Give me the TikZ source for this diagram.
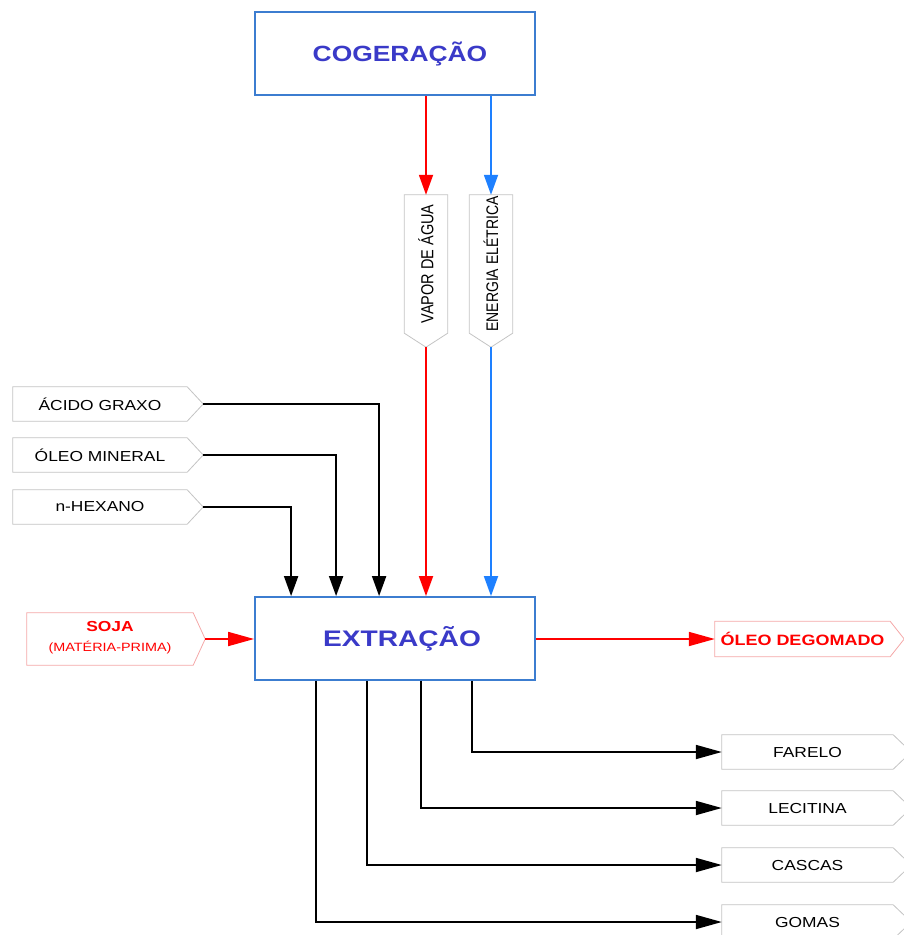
\documentclass[tikz,border=0pt]{standalone}
\usepackage{fontspec}
\setmainfont{Liberation Sans}
\usetikzlibrary{arrows.meta,calc}
\definecolor{boxblue}{HTML}{3C7DD0}
\definecolor{txtblue}{HTML}{3A3AC8}
\definecolor{lblgray}{HTML}{C4C4C4}
\definecolor{lblred}{HTML}{F5A8A8}
\definecolor{arrred}{HTML}{FF0000}
\definecolor{arrblue}{HTML}{1E80FF}
\newcommand{\hs}[1]{\scalebox{1.2}[1]{#1}}
\newcommand{\vs}[1]{\rotatebox{90}{\scalebox{1}[1.2]{#1}}}
\begin{document}
\begin{tikzpicture}[x=1pt,y=-1pt,
  mainbox/.style={draw=boxblue,line width=1.8pt,fill=white,minimum width=280pt,minimum height=83pt,inner sep=0pt,text=txtblue,font=\fontsize{22}{26}\selectfont\bfseries},
  lbl/.style={inner sep=0pt,font=\fontsize{14.5}{17}\selectfont},
  pent/.style={draw=lblgray,line width=0.8pt,fill=white},
  pentred/.style={draw=lblred,line width=0.8pt,fill=white},
  flow/.style={line width=1.8pt},
  vhead/.style={-{Triangle[length=20pt,width=14pt]}},
  hhead/.style={-{Triangle[length=26pt,width=14pt]}},
]
\useasboundingbox (0,0) rectangle (904,935);

% main boxes
\node[mainbox] (cog) at (395,53.5) {\hspace*{10pt}\hs{COGERAÇÃO}};
\node[mainbox] (ext) at (395,638.5) {\hspace*{14pt}\scalebox{1.25}[1]{\fontsize{22.5}{26}\selectfont EXTRAÇÃO}};

% vertical labels
\node[lbl,minimum width=43pt,minimum height=138pt] (vap) at (426,264) {};
\draw[pent] (vap.north west) -- (vap.north east) -- (vap.south east) -- ($(vap.south)+(0,14)$) coordinate (vaptip) -- (vap.south west) -- cycle;
\node[lbl] (vaptxt) at (vap.center) {\vs{VAPOR DE ÁGUA}};
\node[lbl,minimum width=43pt,minimum height=138pt] (ene) at (491,264) {};
\draw[pent] (ene.north west) -- (ene.north east) -- (ene.south east) -- ($(ene.south)+(0,14)$) coordinate (enetip) -- (ene.south west) -- cycle;
\node[lbl,font=\fontsize{14}{17}\selectfont] (enetxt) at (ene.center) {\vs{ENERGIA ELÉTRICA}};

\draw[flow,arrred,vhead] (vap.north |- cog.south) -- (vap.north);
\draw[flow,arrblue,vhead] (ene.north |- cog.south) -- (ene.north);
\draw[flow,arrred,vhead] (vaptip) -- (vaptip |- ext.north);
\draw[flow,arrblue,vhead] (enetip) -- (enetip |- ext.north);

% left inputs
\node[lbl,minimum width=174pt,minimum height=34pt] (ag) at (100,404) {};
\draw[pent] (ag.north west) -- (ag.north east) -- ($(ag.east)+(16,0)$) coordinate (agtip) -- (ag.south east) -- (ag.south west) -- cycle;
\node[lbl] (agtxt) at (ag.center) {\hs{ÁCIDO GRAXO}};
\node[lbl,minimum width=174pt,minimum height=34pt] (om) at (100,455) {};
\draw[pent] (om.north west) -- (om.north east) -- ($(om.east)+(16,0)$) coordinate (omtip) -- (om.south east) -- (om.south west) -- cycle;
\node[lbl] (omtxt) at (om.center) {\hs{ÓLEO MINERAL}};
\node[lbl,minimum width=174pt,minimum height=34pt] (hx) at (100,507) {};
\draw[pent] (hx.north west) -- (hx.north east) -- ($(hx.east)+(16,0)$) coordinate (hxtip) -- (hx.south east) -- (hx.south west) -- cycle;
\node[lbl] (hxtxt) at (hx.center) {\hs{n-HEXANO}};

\draw[flow,vhead] (agtip) -| ($(ext.north west)+(125,0)$);
\draw[flow,vhead] (omtip) -| ($(ext.north west)+(82,0)$);
\draw[flow,vhead] (hxtip) -| ($(ext.north west)+(37,0)$);

% soja
\node[lbl,minimum width=166pt,minimum height=52pt] (soja) at (110,639) {};
\draw[pentred] (soja.north west) -- (soja.north east) -- ($(soja.east)+(12,0)$) coordinate (sojatip) -- (soja.south east) -- (soja.south west) -- cycle;
\node[lbl,text=arrred,align=center] (sojatxt) at ($(soja.center)+(0,-1)$) {\hs{\bfseries SOJA}\\[3pt]{\fontsize{12}{13}\selectfont\hs{(MATÉRIA-PRIMA)}}};
\draw[flow,arrred,hhead] (sojatip) -- (sojatip -| ext.west);

% oleo degomado
\node[lbl,minimum width=175pt,minimum height=35pt] (od) at (802.5,639) {};
\draw[pentred] (od.north west) -- (od.north east) -- ($(od.east)+(14,0)$) coordinate (odtip) -- (od.south east) -- (od.south west) -- cycle;
\node[lbl,text=arrred,font=\fontsize{15}{17}\selectfont\bfseries] (odtxt) at (od.center) {\hs{ÓLEO DEGOMADO}};
\draw[flow,arrred,hhead] (ext.east |- od.west) -- (od.west);

% outputs
\foreach \nm/\yy/\tx in {far/752/FARELO,lec/808/LECITINA,cas/865/CASCAS,gom/922/GOMAS}{
  \node[lbl,minimum width=171pt,minimum height=34pt] (\nm) at (807.5,\yy) {};
  \draw[pent] (\nm.north west) -- (\nm.north east) -- ($(\nm.east)+(18,0)$) -- (\nm.south east) -- (\nm.south west) -- cycle;
  \node[lbl] (\nm txt) at (\nm.center) {\hs{\tx}};
}
\draw[flow,hhead] ($(ext.south west)+(218,0)$) |- (far.west);
\draw[flow,hhead] ($(ext.south west)+(167,0)$) |- (lec.west);
\draw[flow,hhead] ($(ext.south west)+(113,0)$) |- (cas.west);
\draw[flow,hhead] ($(ext.south west)+(62,0)$) |- (gom.west);
\end{tikzpicture}
\end{document}
